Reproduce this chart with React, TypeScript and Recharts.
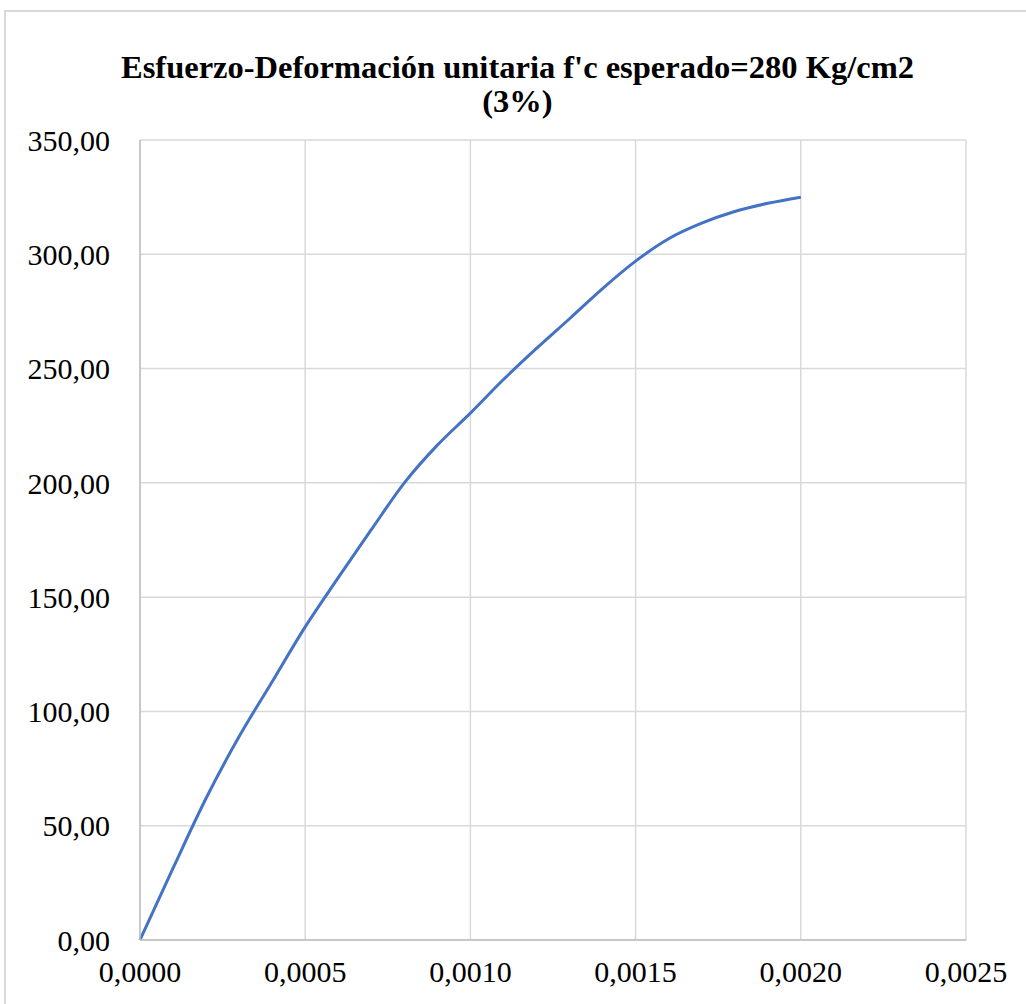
import { LineChart, Line, XAxis, YAxis, CartesianGrid } from "recharts";

const strain = [
  0, 0.0001, 0.0002, 0.0003, 0.0004, 0.0005, 0.0006, 0.0007, 0.0008, 0.0009, 0.001,
  0.0011, 0.0012, 0.0013, 0.0014, 0.0015, 0.0016, 0.0017, 0.0018, 0.0019, 0.002,
];
const stress = [
  0, 31.4, 62, 89, 113, 137, 158.5, 179.5, 200, 216.5, 230.5,
  245.2, 258.8, 271.8, 285, 297, 306.8, 313.6, 318.7, 322.3, 325,
];
const xTicks = [0, 0.0005, 0.001, 0.0015, 0.002, 0.0025];
const yTicks = [0, 50, 100, 150, 200, 250, 300, 350];

const chartData = strain.map((s, i) => ({ strain: s, stress: stress[i] }));

const FONT = '"Liberation Serif", "Times New Roman", serif';
const tickStyle = { fontSize: 30, fill: "#000", fontFamily: FONT };

export default function App() {
  return (
    <div
      style={{
        position: "absolute",
        left: 0,
        top: 0,
        width: 1026,
        height: 1004,
        overflow: "hidden",
        background: "#fff",
      }}
    >
      <div
        style={{
          position: "absolute",
          left: 4,
          top: 10,
          width: 1040,
          height: 1010,
          border: "2px solid #d9d9d9",
          boxSizing: "border-box",
        }}
      />
      <div
        style={{
          position: "absolute",
          left: 0,
          top: 50,
          width: 1035,
          textAlign: "center",
          fontFamily: FONT,
          fontWeight: "bold",
          fontSize: 32.5,
          lineHeight: "34px",
          color: "#000",
        }}
      >
        Esfuerzo-Deformación unitaria f'c esperado=280 Kg/cm2
        <br />
        (3%)
      </div>
      <div style={{ position: "absolute", left: 0, top: 0 }}>
        <LineChart
          width={1026}
          height={1004}
          data={chartData}
          margin={{ top: 140, right: 60, left: 20, bottom: 14 }}
        >
          <CartesianGrid stroke="#d9d9d9" strokeWidth={1.5} />
          <XAxis
            type="number"
            dataKey="strain"
            domain={[0, 0.0025]}
            ticks={xTicks}
            tickFormatter={(v: number) => v.toFixed(4).replace(".", ",")}
            tick={tickStyle}
            tickLine={false}
            tickSize={0}
            tickMargin={21}
            axisLine={{ stroke: "#bfbfbf", strokeWidth: 1.5 }}
            height={50}
            interval={0}
          />
          <YAxis
            type="number"
            domain={[0, 350]}
            ticks={yTicks}
            tickFormatter={(v: number) => v.toFixed(2).replace(".", ",")}
            tick={tickStyle}
            tickLine={false}
            tickSize={0}
            tickMargin={30}
            axisLine={{ stroke: "#bfbfbf", strokeWidth: 1.5 }}
            width={120}
            interval={0}
          />
          <Line
            type="monotone"
            dataKey="stress"
            stroke="#4472c4"
            strokeWidth={3}
            dot={false}
            isAnimationActive={false}
          />
        </LineChart>
      </div>
    </div>
  );
}
